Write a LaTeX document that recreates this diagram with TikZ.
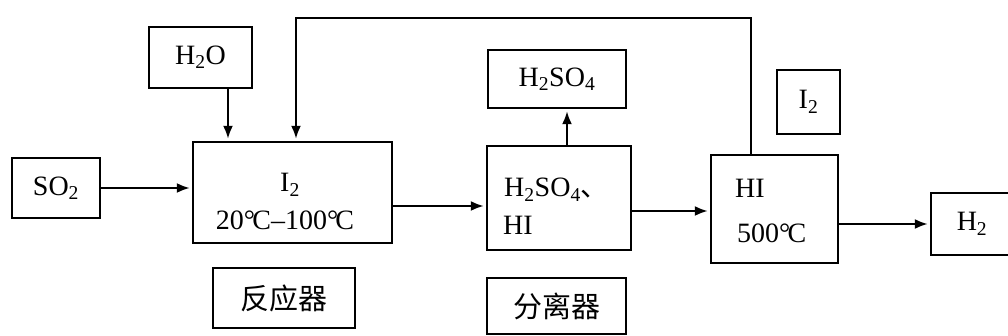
\documentclass[tikz,border=0pt]{standalone}
\usepackage{fontspec}
\setmainfont{Liberation Serif}
\newfontfamily\cjk{Noto Sans CJK SC}
\usetikzlibrary{arrows.meta}
\newcommand{\dC}{°\kern-0.1em C}
\begin{document}
\begin{tikzpicture}[x=1pt,y=-1pt,
  box/.style={draw,line width=2.4pt,inner sep=0pt,font=\fontsize{28}{32}\selectfont},
  cbox/.style={box,font=\fontsize{29}{32}\cjk},
  lbl/.style={inner sep=0pt,font=\fontsize{28}{32}\selectfont},
  arr/.style={line width=2.2pt,shorten >=2pt,-{Latex[length=13pt,width=10pt]}},
  ln/.style={line width=2.2pt}]
\useasboundingbox[fill=white] (0,0) rectangle (1008,336);
% boxes
\node[box,minimum width=88,minimum height=60] (so2) at (56,188) {SO\textsubscript{2}};
\node[box,minimum width=103,minimum height=61] (h2o) at (200.5,57.5) {H\textsubscript{2}O};
\node[box,minimum width=199,minimum height=101] (reactor) at (292.5,192.5) {};
\node[cbox,minimum width=142,minimum height=60] (rlabel) at (284,298) {反应器};
\node[box,minimum width=144,minimum height=104] (sep) at (559,198) {};
\node[box,minimum width=138,minimum height=58] (h2so4) at (557,79) {H\textsubscript{2}SO\textsubscript{4}};
\node[cbox,minimum width=139,minimum height=56] (slabel) at (556.5,306) {分离器};
\node[box,minimum width=127,minimum height=108] (hi) at (774.5,209) {};
\node[box,minimum width=63,minimum height=64] (i2) at (808.5,102) {I\textsubscript{2}};
\node[box,minimum width=82,minimum height=62] (h2) at (972,224) {H\textsubscript{2}\hspace{16pt}};
% texts inside boxes
\node[lbl,anchor=base] (rt1) at (290,192) {I\textsubscript{2}};
\node[lbl,anchor=base] (rt2) at (285,230) {20\dC–100\dC};
\node[lbl,anchor=base west] (st1) at (504,197) {H\textsubscript{2}SO\textsubscript{4}{\cjk 、}};
\node[lbl,anchor=base west] (st2) at (503,235) {HI};
\node[lbl,anchor=base west] (ht1) at (735,198) {HI};
\node[lbl,anchor=base west] (ht2) at (737,243) {500\dC};
% connectors
\draw[arr] (so2.east) -- (so2.east -| reactor.west);
\draw[arr] (h2o.south -| 228,0) -- (reactor.north -| 228,0);
\draw[arr] (reactor.east |- 0,206) -- (sep.west |- 0,206);
\draw[arr] (sep.north -| 567,0) -- (h2so4.south -| 567,0);
\draw[arr] (sep.east |- 0,211) -- (hi.west |- 0,211);
\draw[arr] (hi.east |- 0,224) -- (h2.west |- 0,224);
\draw[arr] (hi.north -| 751,0) -- (751,18) -- (296,18) -- (reactor.north -| 296,0);
\end{tikzpicture}
\end{document}
